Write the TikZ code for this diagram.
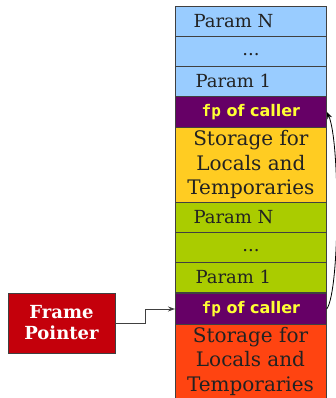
\documentclass[tikz,border=0pt]{standalone}
\usepackage{fontspec}
\setmainfont{DejaVu Serif}
\newfontfamily\dvsans{DejaVu Sans}
\newfontfamily\dvmono{DejaVu Sans Mono}
\usetikzlibrary{arrows.meta}
\definecolor{pblue}{HTML}{99CCFF}
\definecolor{ppurple}{HTML}{660066}
\definecolor{pyellowtxt}{HTML}{FFFF33}
\definecolor{pyellow}{HTML}{FFCC22}
\definecolor{pgreen}{HTML}{AACC00}
\definecolor{porange}{HTML}{FF4411}
\definecolor{pred}{HTML}{C4000B}
\definecolor{txt}{HTML}{222222}
\tikzset{
  cell/.style={draw=black!75, line width=0.8pt, minimum width=151pt, inner sep=0pt, anchor=north west},
  small/.style={cell, minimum height=30pt},
  fpcell/.style={cell, fill=ppurple, minimum height=31pt},
  big/.style={cell, minimum height=75pt},
  ptext/.style={font=\fontsize{18}{20}\selectfont, text=txt, anchor=west},
  dtext/.style={font=\fontsize{18}{20}\selectfont, text=txt},
  fptext/.style={font=\bfseries\fontsize{16}{18}\selectfont, text=pyellowtxt},
  stext/.style={font=\fontsize{20}{24.5}\selectfont, text=txt, align=center},
}
\begin{document}
\begin{tikzpicture}[x=1pt,y=-1pt]
\useasboundingbox (0,0) rectangle (336,398);
% upper frame
\node[small, fill=pblue] (n1) at (175,6) {};
\node[small, fill=pblue] (d1) at (175,36) {};
\node[small, fill=pblue] (o1) at (175,66) {};
\node[fpcell] (f1) at (175,96) {};
\node[big, fill=pyellow] (s1) at (175,127) {};
% lower frame
\node[small, fill=pgreen] (n2) at (175,202) {};
\node[small, fill=pgreen] (d2) at (175,232) {};
\node[small, fill=pgreen] (o2) at (175,262) {};
\node[fpcell] (f2) at (175,293) {};
\node[big, fill=porange, minimum height=80pt] (s2) at (175,324) {};
% texts
\node[ptext] (tn1) at (190,21) {Param N};
\node[dtext] (td1) at (251,55) {...};
\node[ptext] (to1) at (192,81) {Param 1};
\node[fptext] (tf1) at (f1.center) {{\dvmono fp} {\dvsans of caller}};
\node[stext] (ts1) at (s1.center) {Storage for\\Locals and\\Temporaries};
\node[ptext] (tn2) at (190,217) {Param N};
\node[dtext] (td2) at (251,251) {...};
\node[ptext] (to2) at (192,277) {Param 1};
\node[fptext] (tf2) at (f2.center) {{\dvmono fp} {\dvsans of caller}};
\node[stext] (ts2) at (250.5,361) {Storage for\\Locals and\\Temporaries};
% frame pointer box
\node[draw=black!75, line width=0.8pt, fill=pred, minimum width=107pt, minimum height=60pt, inner sep=0pt,
      font=\bfseries\fontsize{18}{21}\selectfont, text=white, align=center] (fp) at (61.5,323) {Frame\\Pointer};
\coordinate (c1) at (145,323);
\coordinate (c2) at (145,309);
\draw[black!75, line width=1pt, -{Stealth[length=7pt,width=5pt]}] (fp.east) -- (c1) -- (c2) -- (f2.west |- c2);
\draw[black, line width=0.8pt, -{Stealth[length=7pt,width=5pt]}] (f2.east) .. controls (340,290) and (340,140) .. (f1.east);
\end{tikzpicture}
\end{document}
